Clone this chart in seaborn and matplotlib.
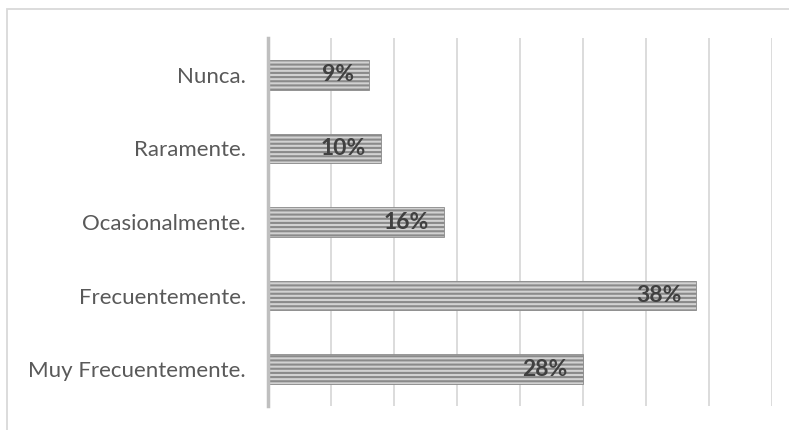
import matplotlib
matplotlib.use("Agg")
import matplotlib.pyplot as plt
from matplotlib.patches import Rectangle
import seaborn as sns
import pandas as pd

# Responses per frequency category (N = 90)
categories = ["Nunca.", "Raramente.", "Ocasionalmente.", "Frecuentemente.", "Muy Frecuentemente."]
counts = [8, 9, 14, 34, 25]
total = sum(counts)
pct_labels = [f"{round(c / total * 100)}%" for c in counts]

df = pd.DataFrame({"categoria": categories, "n": counts})

sns.set_theme(style="white")
plt.rcParams["font.family"] = ["Lato", "DejaVu Sans"]
plt.rcParams["hatch.linewidth"] = 1.5

fig = plt.figure(figsize=(7.89, 4.30), dpi=100)
ax = fig.add_axes([268 / 789, 1 - 406 / 430, (772 - 268) / 789, (406 - 38) / 430])

sns.barplot(data=df, x="n", y="categoria", order=categories, orient="h",
            color="#d2d2d2", width=0.4, ax=ax, saturation=1)

for p in ax.patches:
    p.set_hatch("----")
    p.set_edgecolor("#8a8a8a")
    p.set_linewidth(0.6)

for i, (c, lab) in enumerate(zip(counts, pct_labels)):
    ax.annotate(lab, xy=(c, i), xytext=(-11, 0), textcoords="offset points",
                ha="right", va="center", fontsize=16.5, fontweight="bold",
                color="#404040")

ax.set_xlim(0, 40)
ax.set_xticks(range(0, 41, 5))
ax.set_xticklabels([])
ax.xaxis.grid(True, color="#d9d9d9", linewidth=1.3)
ax.set_axisbelow(True)
ax.set_xlabel("")
ax.set_ylabel("")
ax.tick_params(axis="y", length=0, pad=16, labelsize=16, labelcolor="#595959")
ax.tick_params(axis="x", length=0)
for side in ["top", "right", "bottom"]:
    ax.spines[side].set_visible(False)
ax.spines["left"].set_color("#bfbfbf")
ax.spines["left"].set_linewidth(2.5)

# Chart border
fig.patches.append(Rectangle((7 / 789, -0.1), 1.2, 1 - 9 / 430 + 0.1,
                             transform=fig.transFigure, fill=False,
                             edgecolor="#d9d9d9", linewidth=1.3))

fig.savefig("out.png", dpi=100)
